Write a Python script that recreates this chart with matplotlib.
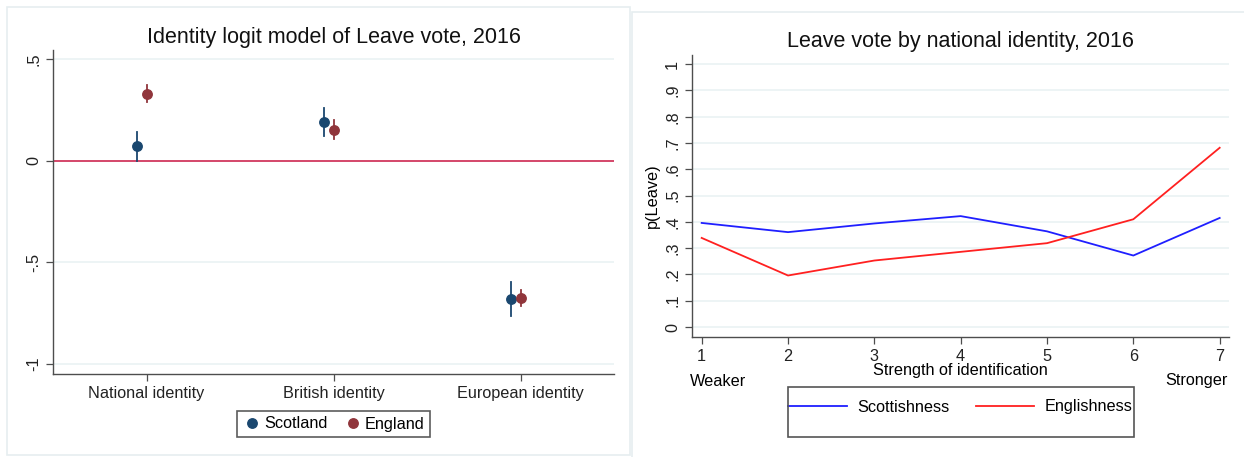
import matplotlib
matplotlib.use("Agg")
import matplotlib.pyplot as plt
from matplotlib.patches import Rectangle
from matplotlib.lines import Line2D

plt.rcParams['font.family'] = ['Liberation Sans', 'DejaVu Sans']

# left panel: logit coefficients with CIs
categories = ['National identity', 'British identity', 'European identity']
scot_coef = [0.074, 0.192, -0.682]
scot_lo = [0.0, 0.121, -0.765]
scot_hi = [0.141, 0.260, -0.598]
eng_coef = [0.330, 0.154, -0.675]
eng_lo = [0.289, 0.110, -0.713]
eng_hi = [0.372, 0.200, -0.637]
left_yticks = [0.5, 0, -0.5, -1]
left_yticklabels = ['.5', '0', '-.5', '-1']

# right panel: predicted p(Leave)
strength = [1, 2, 3, 4, 5, 6, 7]
scottishness = [0.396, 0.361, 0.394, 0.422, 0.364, 0.272, 0.415]
englishness = [0.339, 0.196, 0.253, 0.286, 0.319, 0.410, 0.682]
right_yticks = [0, .1, .2, .3, .4, .5, .6, .7, .8, .9, 1]
right_yticklabels = ['0', '.1', '.2', '.3', '.4', '.5', '.6', '.7', '.8', '.9', '1']

W, H = 1244, 457
NAVY = '#1a476f'
MAROON = '#90353b'
GRID = '#eaf2f3'
SPINE = '#4d4d4d'
FS = 11.7
TFS = 15.5


def px_rect(x0, y0, x1, y1):
    return [x0 / W, 1 - y1 / H, (x1 - x0) / W, (y1 - y0) / H]


def fx(x):
    return x / W


def fy(y):
    return 1 - y / H


def style_axes(ax):
    for s in ['top', 'right']:
        ax.spines[s].set_visible(False)
    for s in ['left', 'bottom']:
        ax.spines[s].set_color(SPINE)
        ax.spines[s].set_linewidth(1.0)
    ax.tick_params(axis='both', colors=SPINE, length=5, width=0.9,
                   labelcolor='#222222', labelsize=FS)
    ax.grid(axis='y', color=GRID, linewidth=1.2)
    ax.set_axisbelow(True)


fig = plt.figure(figsize=(W / 100, H / 100), dpi=100)
fig.patch.set_facecolor('white')

# panel frames
fig.patches.append(Rectangle((fx(7), fy(455)), fx(623), 448 / H, transform=fig.transFigure,
                             fill=False, edgecolor='#e6eef0', linewidth=1.2))
fig.patches.append(Rectangle((fx(632), fy(470)), fx(640), 458 / H, transform=fig.transFigure,
                             fill=False, edgecolor='#e6eef0', linewidth=1.2))

# ---- left chart
ax1 = fig.add_axes(px_rect(53, 50, 614, 374))
style_axes(ax1)
xs = [1, 2, 3]
off = 0.05
ax1.axhline(0, color='#d5476a', linewidth=1.4, zorder=2)
for i in range(3):
    ax1.plot([xs[i] - off, xs[i] - off], [scot_lo[i], scot_hi[i]], color=NAVY, lw=1.3, zorder=3)
    ax1.plot([xs[i], xs[i]], [eng_lo[i], eng_hi[i]], color=MAROON, lw=1.3, zorder=3)
ax1.plot([x - off for x in xs], scot_coef, 'o', color=NAVY, ms=6.8, zorder=4, label='Scotland')
ax1.plot(xs, eng_coef, 'o', color=MAROON, ms=6.8, zorder=4, label='England')
ax1.set_xlim(0.5, 3.5)
ax1.set_ylim(-1.05, 0.546)
ax1.set_xticks(xs)
ax1.set_xticklabels(categories, fontsize=FS)
ax1.set_yticks(left_yticks)
ax1.set_yticklabels(left_yticklabels, rotation=90, va='center', fontsize=FS)
fig.text(fx(334), fy(37), 'Identity logit model of Leave vote, 2016', ha='center', va='center',
         fontsize=TFS, color='#111111')
leg1 = ax1.legend(loc='center', bbox_to_anchor=(fx(333.5), fy(424)),
                  bbox_transform=fig.transFigure, ncol=2, frameon=True, fancybox=False,
                  edgecolor='#333333', fontsize=FS, handletextpad=0.1, columnspacing=1.0,
                  handlelength=1.2, borderpad=0.35, markerscale=1.0)
leg1.get_frame().set_linewidth(1.2)

# ---- right chart
ax2 = fig.add_axes(px_rect(692, 55, 1229, 337))
style_axes(ax2)
ax2.plot(strength, scottishness, color='#1f1fff', lw=1.3, label='Scottishness')
ax2.plot(strength, englishness, color='#ff2020', lw=1.3, label='Englishness')
ax2.set_xlim(0.888, 7.108)
ax2.set_ylim(-0.038, 1.035)
ax2.set_xticks(strength)
ax2.set_yticks(right_yticks)
ax2.set_yticklabels(right_yticklabels, rotation=90, va='center', fontsize=FS)
ax2.set_ylabel('p(Leave)', fontsize=FS, labelpad=4)
fig.text(fx(960), fy(42), 'Leave vote by national identity, 2016', ha='center', va='center',
         fontsize=TFS, color='#111111')
fig.text(fx(960), fy(370), 'Strength of identification', ha='center', va='center', fontsize=FS)
fig.text(fx(690), fy(382), 'Weaker', ha='left', va='center', fontsize=FS)
fig.text(fx(1228), fy(381), 'Stronger', ha='right', va='center', fontsize=FS)

fig.patches.append(Rectangle((fx(788), fy(437)), fx(345.5), 50 / H, transform=fig.transFigure,
                             fill=False, edgecolor='#555555', linewidth=1.2))
handles = [Line2D([], [], color='#1f1fff', lw=1.3), Line2D([], [], color='#ff2020', lw=1.3)]
ax2.legend(handles, ['Scottishness', 'Englishness'], loc='center',
           bbox_to_anchor=(fx(960.5), fy(407)), bbox_transform=fig.transFigure,
           ncol=2, frameon=False, fontsize=FS, handlelength=3.6, handletextpad=0.65,
           columnspacing=1.6)

fig.savefig('out.png', dpi=100)
